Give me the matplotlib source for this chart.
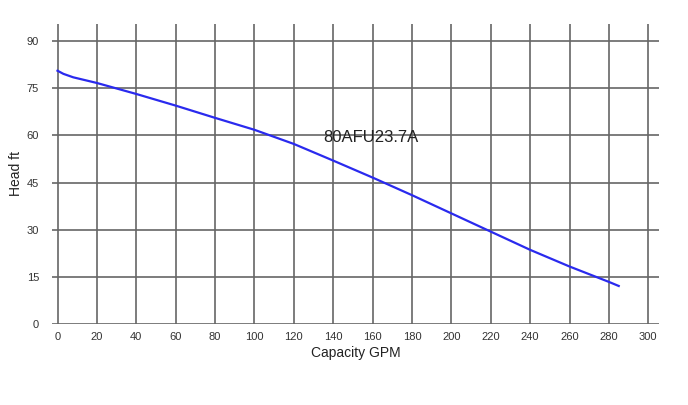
import matplotlib.pyplot as plt

# Pump curve
capacity = [0, 3, 8, 14, 20, 40, 60, 80, 100, 120, 140, 160, 180, 200, 220, 240, 260, 280, 285]
head = [80.6, 79.6, 78.5, 77.6, 76.7, 73.2, 69.5, 65.6, 61.8, 57.3, 52.0, 46.6, 41.0, 35.2, 29.4, 23.6, 18.3, 13.4, 12.1]

x_ticks = list(range(0, 301, 20))
y_ticks = list(range(0, 91, 15))
model_name = '80AFU23.7A'

plt.rcParams['font.family'] = ['Liberation Sans', 'DejaVu Sans']

fig = plt.figure(figsize=(6.88, 4.05), dpi=100)
ax = fig.add_axes([0.075, 0.2, 0.883, 0.741])

ax.plot(capacity, head, color='#2a2aee', linewidth=1.6, zorder=3)
ax.text(159, 59.5, model_name, fontsize=12, color='#222222', ha='center', va='center')

ax.set_xlim(-3, 305.5)
ax.set_ylim(0, 95.5)
ax.set_xticks(x_ticks)
ax.set_yticks(y_ticks)
ax.grid(True, color='#666666', linewidth=1.2)
ax.set_axisbelow(True)
for s in ax.spines.values():
    s.set_visible(False)
ax.tick_params(length=0, labelsize=8, colors='#333333', pad=6)
ax.tick_params(axis='y', pad=9)

ax.set_xlabel('Capacity GPM', fontsize=10, color='#222222', labelpad=3)
ax.set_ylabel('Head ft', fontsize=10, color='#222222', labelpad=3)

fig.savefig('out.png', dpi=100)
